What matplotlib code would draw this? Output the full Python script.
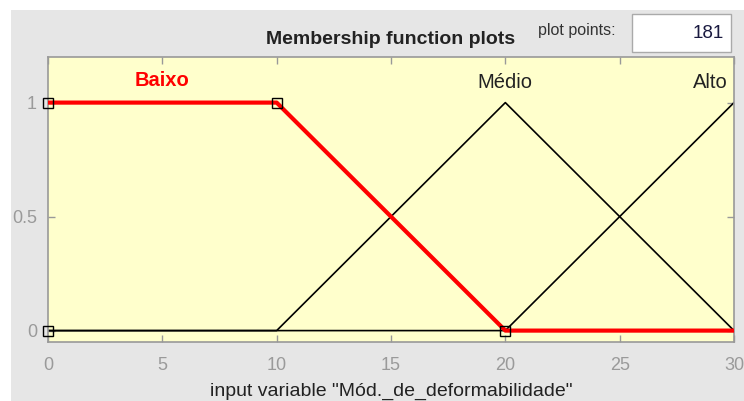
import numpy as np
import matplotlib
matplotlib.use("Agg")
import matplotlib.pyplot as plt
from matplotlib.patches import Rectangle

plt.rcParams['font.family'] = ['Liberation Sans', 'DejaVu Sans']

# Data: membership functions over input variable range
x_range = [0, 30]
n_points = 181
baixo_params = [0, 0, 10, 20]      # trapmf
medio_params = [10, 20, 30]        # trimf
alto_params = [20, 30, 40]         # trimf
mf_names = ["Baixo", "Médio", "Alto"]
x_ticks = [0, 5, 10, 15, 20, 25, 30]
y_ticks = [0, 0.5, 1]
y_ticklabels = ["0", "0.5", "1"]


def trapmf(x, p):
    a, b, c, d = p
    x = np.asarray(x, dtype=float)
    if b > a:
        up = (x - a) / (b - a)
    else:
        up = np.where(x >= a, 1.0, 0.0)
    if d > c:
        down = (d - x) / (d - c)
    else:
        down = np.where(x <= d, 1.0, 0.0)
    return np.clip(np.minimum(up, down), 0, 1)


def trimf(x, p):
    a, b, c = p
    x = np.asarray(x, dtype=float)
    y = np.minimum((x - a) / (b - a), (c - x) / (c - b))
    return np.clip(y, 0, 1)


x = np.linspace(x_range[0], x_range[1], n_points)
y_baixo = trapmf(x, baixo_params)
y_medio = trimf(x, medio_params)
y_alto = trimf(x, alto_params)

W, H = 744, 401
fig = plt.figure(figsize=(W / 100, H / 100), dpi=100, facecolor='white')

# gray panel
fig.patches.append(Rectangle((11 / W, 0), 1 - 11 / W, (H - 10) / H,
                             transform=fig.transFigure, facecolor='#e6e6e6',
                             edgecolor='none', zorder=-10))

ax = fig.add_axes([48 / W, (H - 342) / H, (734 - 48) / W, (342 - 57) / H])
ax.set_zorder(1)
ax.set_facecolor('#ffffcc')
ax.set_xlim(x_range)
ax.set_ylim(-0.05, 1.2)

ax.plot(x, y_medio, color='black', lw=1.2, zorder=2)
ax.plot(x, y_alto, color='black', lw=1.2, zorder=2)
ax.plot(x, y_baixo, color='#ff0000', lw=3.0, zorder=3, solid_capstyle='butt')

# vertex markers for selected MF
mx = [baixo_params[0], baixo_params[1], baixo_params[2], baixo_params[3]]
my = [0.0, 1.0, 1.0, 0.0]
ax.plot(mx, my, linestyle='none', marker='s', markersize=6.5,
        markerfacecolor='none', markeredgecolor='black', markeredgewidth=1.0,
        zorder=4, clip_on=False)

ax.text(5, 1.095, mf_names[0], color='#ff0000', fontsize=14.5, fontweight='bold',
        ha='center', va='center')
ax.text(20, 1.09, mf_names[1], color='#222222', fontsize=14.5,
        ha='center', va='center')
ax.text(28.95, 1.09, mf_names[2], color='#222222', fontsize=14.5,
        ha='center', va='center')

ax.set_xticks(x_ticks)
ax.set_yticks(y_ticks)
ax.set_yticklabels(y_ticklabels)
ax.tick_params(direction='in', length=5, width=1, colors='#999999',
               labelcolor='#9a9a9a', labelsize=13, top=True, right=True)
ax.tick_params(axis='x', pad=11)
ax.tick_params(axis='y', pad=8)
for s in ax.spines.values():
    s.set_color('#999999')
    s.set_linewidth(1.2)

ax.set_xlabel('input variable "Mód._de_deformabilidade"', fontsize=14,
              color='#222222', labelpad=6)

fig.text(391 / W, 1 - 40 / H, "Membership function plots", fontsize=14,
         fontweight='bold', ha='center', va='center', color='#222222')
fig.text(577 / W, 1 - 30 / H, "plot points:", fontsize=11.5, ha='center',
         va='center', color='#333333')
fig.patches.append(Rectangle((632 / W, 1 - 52 / H), 99 / W, 38 / H,
                             transform=fig.transFigure, facecolor='white',
                             edgecolor='#aaaaaa', lw=1, zorder=1))
fig.text(724 / W, 1 - 33 / H, "181", fontsize=13.5, ha='right', va='center',
         color='#1a1a40')

fig.savefig('out.png', dpi=100, facecolor=fig.get_facecolor())
